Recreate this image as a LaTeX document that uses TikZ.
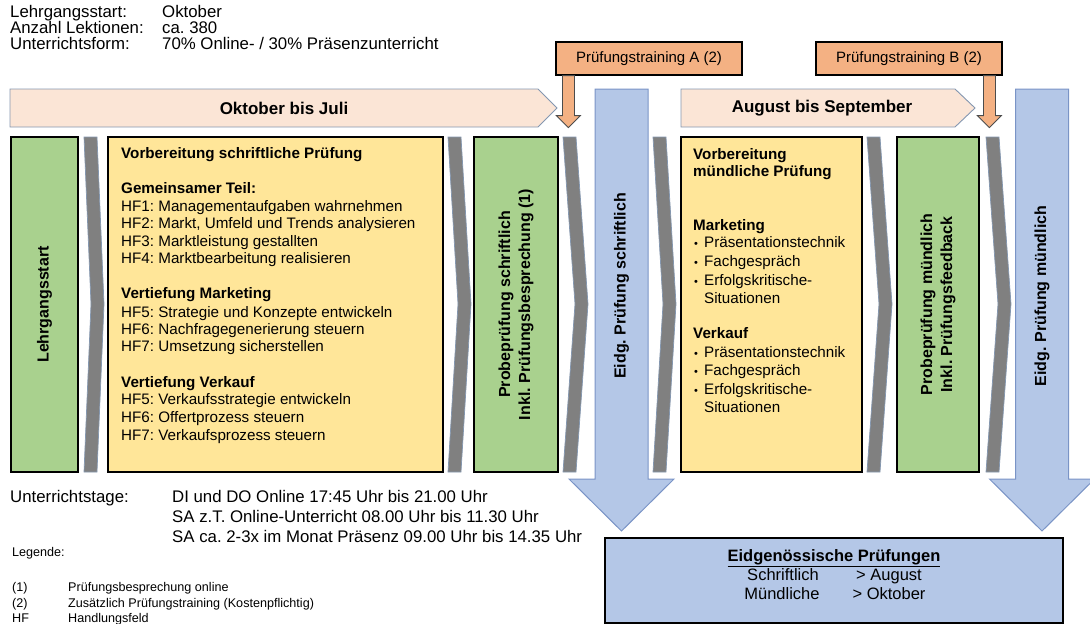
\documentclass[tikz,border=0pt]{standalone}
\usepackage{fontspec}
\setmainfont{Liberation Sans}
\usetikzlibrary{calc}
\frenchspacing

\definecolor{peach}{RGB}{251,229,214}
\definecolor{peachline}{RGB}{132,151,176}
\definecolor{trainorange}{RGB}{244,177,131}
\definecolor{stepgreen}{RGB}{169,209,142}
\definecolor{stepyellow}{RGB}{255,230,153}
\definecolor{exblue}{RGB}{180,199,231}
\definecolor{exline}{RGB}{122,148,198}
\definecolor{chevgray}{RGB}{128,128,128}

\tikzset{
	txt/.style = {anchor = west, inner sep = 0, font = \fontsize{15.2}{18}\selectfont, text height = 11pt, text depth = 3pt},
	bigtxt/.style = {anchor = west, inner sep = 0, font = \fontsize{16.8}{19}\selectfont, text height = 12pt, text depth = 3pt},
	smalltxt/.style = {anchor = west, inner sep = 0, font = \fontsize{12.6}{14}\selectfont, text height = 9pt, text depth = 2.5pt},
	examtxt/.style = {inner sep = 0, font = \fontsize{16.5}{19}\selectfont, text height = 12pt, text depth = 3.5pt},
	period/.style = {draw = peachline, fill = peach, line width = 0.9pt},
	periodtxt/.style = {inner sep = 0, font = \fontsize{17}{20}\selectfont\bfseries},
	stepbox/.style = {draw = black, line width = 1.2pt, inner sep = 0},
	steplabel/.style = {rotate = 90, align = center, inner sep = 0, font = \fontsize{16}{20}\selectfont\bfseries},
	chevron/.style = {draw = peachline, fill = chevgray, line width = 0.7pt},
	exarrow/.style = {draw = exline, fill = exblue, line width = 1pt},
	trainbox/.style = {draw = black, fill = trainorange, line width = 1.2pt, inner sep = 0, font = \fontsize{15}{18}\selectfont},
	trainarrow/.style = {draw = black!70, fill = trainorange, line width = 0.8pt}
}

\begin{document}
\begin{tikzpicture}[x = 1pt, y = -1pt]

	\useasboundingbox (0, 0) rectangle (1090, 624);

	% Kopfdaten
	
	\foreach \y/\a/\b in {13/Lehrgangsstart:/Oktober, 29/Anzahl Lektionen:/ca. 380, 45/Unterrichtsform:/{70\% Online- / 30\% Präsenzunterricht}}
	{
		\node [bigtxt] (key\y) at (10, \y) {\a};
		\node [bigtxt] (val\y) at (162, \y) {\b};
	}
	
	% Zeitraum-Pfeile
	
	\draw [period] (10, 89) -- (538, 89) -- (557, 108) -- (538, 127) -- (10, 127) -- cycle;
	\node [periodtxt] (year) at (284, 108) {Oktober bis Juli};
	
	\draw [period] (681, 89) -- (955, 89) -- (975, 108) -- (955, 127) -- (681, 127) -- cycle;
	\node [periodtxt] (summer) at (822, 108) {August bis September};
	
	% Pruefungstrainings + Pfeile
	
	\node [trainbox, minimum width = 186, minimum height = 33] (trainA) at (649, 58.5) {Prüfungstraining A (2)};
	\node [trainbox, minimum width = 186, minimum height = 33] (trainB) at (909, 58.5) {Prüfungstraining B (2)};
	
	\foreach \n/\dx in {trainA/13, trainB/174}
	{
		\coordinate (top) at ($(\n.south west) + (\dx, 0)$);
		\draw [trainarrow] (top) ++(-6, 0) -- ++(0, 40) -- ++(-6, 0) -- ++(12, 12) -- ++(12, -12) -- ++(-6, 0) -- ++(0, -40) -- cycle;
	}
	
	% Chevrons zwischen den Schritten
	
	\foreach \x/\d in {84/7, 448/10, 563/12, 653/10, 867/12, 986/12}
		\draw [chevron] (\x, 137) -- ++(13, 0) -- ++(\d, 167) -- ++(-\d, 168) -- ++(-13, 0) -- ++(\d, -168) -- cycle;
	
	% Eidg. Pruefungen (Blockpfeile)
	
	\foreach \c in {621.5, 1042}
		\draw [exarrow] (\c - 26.5, 89) -- (\c + 26.5, 89) -- (\c + 26.5, 479) -- (\c + 52.5, 479) -- (\c, 531) -- (\c - 52.5, 479) -- (\c - 26.5, 479) -- cycle;
	
	\node [steplabel] (exam1) at (621.5, 286) {Eidg. Prüfung schriftlich};
	\node [steplabel] (exam2) at (1042, 296) {Eidg. Prüfung mündlich};
	
	% Schritte
	
	\node [stepbox, fill = stepgreen, minimum width = 67, minimum height = 335] (start) at (44.5, 304.5) {};
	\node [stepbox, fill = stepyellow, minimum width = 335, minimum height = 335] (prepA) at (275.5, 304.5) {};
	\node [stepbox, fill = stepgreen, minimum width = 84, minimum height = 335] (probeA) at (516, 304.5) {};
	\node [stepbox, fill = stepyellow, minimum width = 181, minimum height = 335] (prepB) at (771.5, 304.5) {};
	\node [stepbox, fill = stepgreen, minimum width = 82, minimum height = 335] (probeB) at (938, 304.5) {};
	
	\node [steplabel] (startlabel) at (start) {Lehrgangsstart};
	\node [steplabel] (probeAlabel) at (probeA) {Probeprüfung schriftlich\\Inkl. Prüfungsbesprechung (1)};
	\node [steplabel] (probeBlabel) at (probeB) {Probeprüfung mündlich\\Inkl. Prüfungsfeedback};
	
	% Vorbereitung schriftlich
	
	\foreach \y/\t in {154/{\textbf{Vorbereitung schriftliche Prüfung}}, 189/{\textbf{Gemeinsamer Teil:}},
			207/{HF1: Managementaufgaben wahrnehmen}, 224/{HF2: Markt, Umfeld und Trends analysieren},
			242/{HF3: Marktleistung gestallten}, 259/{HF4: Marktbearbeitung realisieren},
			294/{\textbf{Vertiefung Marketing}}, 313/{HF5: Strategie und Konzepte entwickeln},
			330/{HF6: Nachfragegenerierung steuern}, 347/{HF7: Umsetzung sicherstellen},
			383/{\textbf{Vertiefung Verkauf}}, 400/{HF5: Verkaufsstrategie entwickeln},
			418/{HF6: Offertprozess steuern}, 436/{HF7: Verkaufsprozess steuern}}
		\node [txt] (prepA\y) at (121, \y) {\t};
	
	% Vorbereitung muendlich
	
	\foreach \y/\t in {155/Vorbereitung, 172/mündliche Prüfung, 226/Marketing, 334/Verkauf}
		\node [txt, font = \fontsize{15.2}{18}\selectfont\bfseries] (prepB\y) at (693, \y) {\t};
	
	\foreach \y/\t in {243/Präsentationstechnik, 262/Fachgespräch, 281/Erfolgskritische-, 353/Präsentationstechnik, 371/Fachgespräch, 390/Erfolgskritische-}
	{
		\node [txt, font = \fontsize{11}{13}\selectfont] (dot\y) at (694, \y) {\textbullet};
		\node [txt] (item\y) at (704, \y) {\t};
	}
	\node [txt] (item299) at (704, 299) {Situationen};
	\node [txt] (item408) at (704, 408) {Situationen};
	
	% Unterrichtstage
	
	\node [bigtxt] (days) at (10, 498) {Unterrichtstage:};
	\foreach \y/\t in {498/DI und DO Online 17:45 Uhr bis 21.00 Uhr, 518/SA z.T. Online-Unterricht 08.00 Uhr bis 11.30 Uhr, 538/SA ca. 2-3x im Monat Präsenz 09.00 Uhr bis 14.35 Uhr}
		\node [bigtxt] (day\y) at (172, \y) {\t};
	
	% Legende
	
	\node [smalltxt] (legend) at (12, 553) {Legende:};
	\foreach \y/\k/\t in {588/(1)/Prüfungsbesprechung online, 604/(2)/Zusätzlich Prüfungstraining (Kostenpflichtig), 619/HF/Handlungsfeld}
	{
		\node [smalltxt] (lkey\y) at (12, \y) {\k};
		\node [smalltxt] (ltxt\y) at (68, \y) {\t};
	}
	
	% Eidgenoessische Pruefungen
	
	\node [stepbox, fill = exblue, minimum width = 458, minimum height = 85] (eidg) at (834, 580.5) {};
	\node [examtxt, font = \fontsize{16.5}{19}\selectfont\bfseries] (eidgtitle) at (834, 557) {\underline{Eidgenössische Prüfungen}};
	\node [examtxt] (writ) at (783, 576) {Schriftlich};
	\node [examtxt] (writdate) at (889, 576) {> August};
	\node [examtxt] (oral) at (782, 595) {Mündliche};
	\node [examtxt] (oraldate) at (889, 595) {> Oktober};

\end{tikzpicture}
\end{document}
